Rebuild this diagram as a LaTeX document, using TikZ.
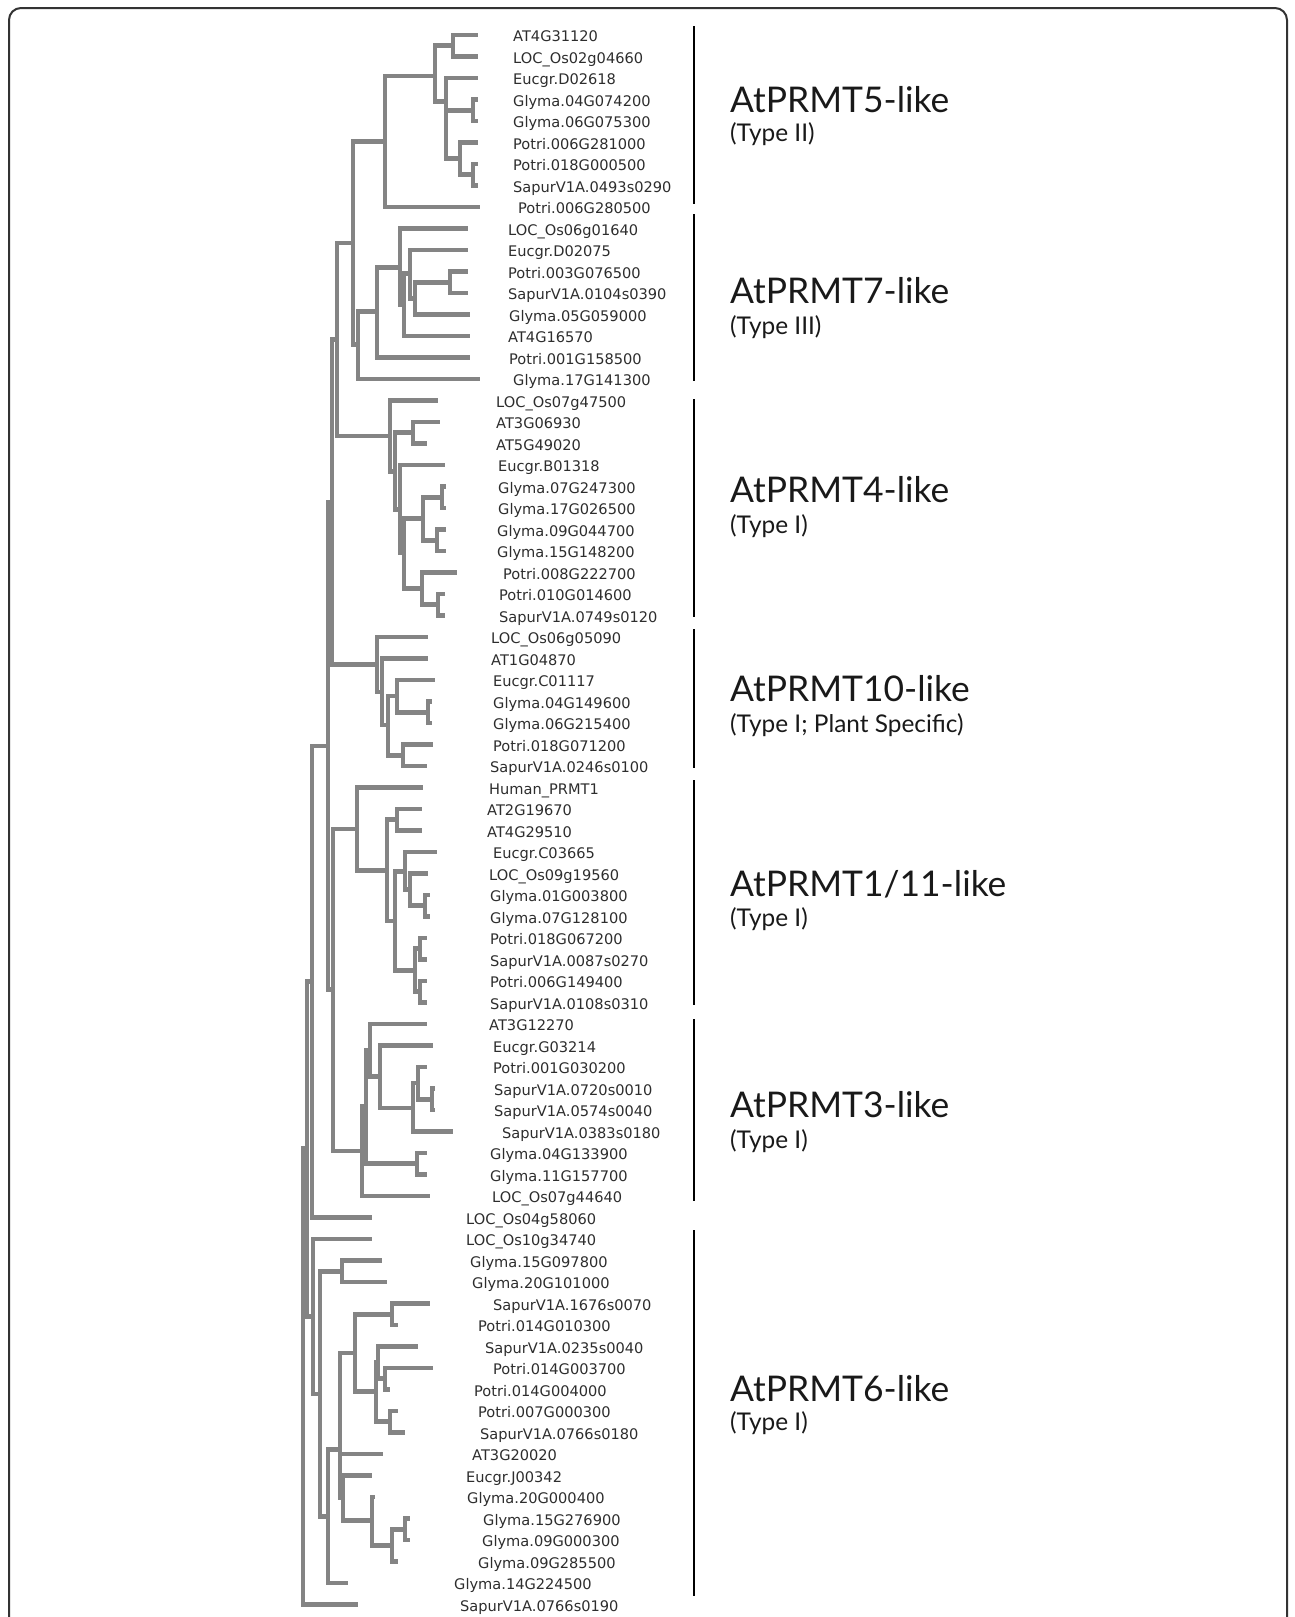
\documentclass[tikz,border=0pt]{standalone}
\usepackage{fontspec}
\setmainfont{DejaVu Sans}
\newfontfamily\grpfont{Lato}
\definecolor{treegray}{RGB}{132,132,132}
\definecolor{lbltext}{RGB}{45,45,45}
\newcommand\leaf[4]{\coordinate (t#1) at (#2,#1); \node[leaflbl] (l#1) at (#3,#1) {#4};}
\newcommand\inode[3]{\coordinate (#1) at (#2,#3);}
\newcommand\kids[2]{\foreach \ch in {#2} {\draw[branch] (#1) |- (\ch);}}
\begin{document}
\begin{tikzpicture}[x=1pt,y=-1pt,
  branch/.style={draw=treegray, line width=4.6pt},
  leaflbl/.style={anchor=base west, inner sep=0pt, yshift=-6.5pt, text=lbltext, font=\fontsize{14.6}{16}\selectfont},
  grptitle/.style={anchor=west, inner sep=0pt, text=black!90, font=\grpfont\fontsize{35.4}{40}\selectfont},
  grpsub/.style={anchor=west, inner sep=0pt, text=black!90, font=\grpfont\fontsize{24.4}{28}\selectfont},
  grpbar/.style={draw=black, line width=2pt},
  framestyle/.style={draw=black!80, line width=2pt, rounded corners=12pt}]
\useasboundingbox (0,0) rectangle (1295,1617);
\draw[framestyle] (9,1617) -- (9,8) -- (1287,8) -- (1287,1617);
\begin{scope}[y={(0pt,-21.5pt)}, yshift=-13.5pt]
% leaves: index, tip x, label x, text
\leaf{1}{478}{513}{AT4G31120}
\leaf{2}{478}{513}{LOC\_Os02g04660}
\leaf{3}{478}{513}{Eucgr.D02618}
\leaf{4}{478}{513}{Glyma.04G074200}
\leaf{5}{478}{513}{Glyma.06G075300}
\leaf{6}{478}{513}{Potri.006G281000}
\leaf{7}{478}{513}{Potri.018G000500}
\leaf{8}{478}{513}{SapurV1A.0493s0290}
\leaf{9}{480}{518}{Potri.006G280500}
\leaf{10}{468}{508}{LOC\_Os06g01640}
\leaf{11}{468}{508}{Eucgr.D02075}
\leaf{12}{468}{508}{Potri.003G076500}
\leaf{13}{468}{508}{SapurV1A.0104s0390}
\leaf{14}{470}{509}{Glyma.05G059000}
\leaf{15}{470}{508}{AT4G16570}
\leaf{16}{470}{509}{Potri.001G158500}
\leaf{17}{480}{513}{Glyma.17G141300}
\leaf{18}{438}{496}{LOC\_Os07g47500}
\leaf{19}{440}{496}{AT3G06930}
\leaf{20}{427}{496}{AT5G49020}
\leaf{21}{445}{498}{Eucgr.B01318}
\leaf{22}{446}{498}{Glyma.07G247300}
\leaf{23}{446}{498}{Glyma.17G026500}
\leaf{24}{446}{497}{Glyma.09G044700}
\leaf{25}{446}{497}{Glyma.15G148200}
\leaf{26}{457}{503}{Potri.008G222700}
\leaf{27}{445}{499}{Potri.010G014600}
\leaf{28}{445}{499}{SapurV1A.0749s0120}
\leaf{29}{428}{491}{LOC\_Os06g05090}
\leaf{30}{428}{491}{AT1G04870}
\leaf{31}{435}{493}{Eucgr.C01117}
\leaf{32}{432}{493}{Glyma.04G149600}
\leaf{33}{432}{493}{Glyma.06G215400}
\leaf{34}{433}{493}{Potri.018G071200}
\leaf{35}{427}{490}{SapurV1A.0246s0100}
\leaf{36}{423}{489}{Human\_PRMT1}
\leaf{37}{422}{487}{AT2G19670}
\leaf{38}{422}{487}{AT4G29510}
\leaf{39}{437}{493}{Eucgr.C03665}
\leaf{40}{428}{489}{LOC\_Os09g19560}
\leaf{41}{430}{490}{Glyma.01G003800}
\leaf{42}{430}{490}{Glyma.07G128100}
\leaf{43}{427}{490}{Potri.018G067200}
\leaf{44}{427}{490}{SapurV1A.0087s0270}
\leaf{45}{427}{490}{Potri.006G149400}
\leaf{46}{427}{490}{SapurV1A.0108s0310}
\leaf{47}{427}{489}{AT3G12270}
\leaf{48}{433}{493}{Eucgr.G03214}
\leaf{49}{427}{493}{Potri.001G030200}
\leaf{50}{435}{494}{SapurV1A.0720s0010}
\leaf{51}{435}{494}{SapurV1A.0574s0040}
\leaf{52}{453}{502}{SapurV1A.0383s0180}
\leaf{53}{427}{490}{Glyma.04G133900}
\leaf{54}{427}{490}{Glyma.11G157700}
\leaf{55}{430}{492}{LOC\_Os07g44640}
\leaf{56}{372}{466}{LOC\_Os04g58060}
\leaf{57}{372}{466}{LOC\_Os10g34740}
\leaf{58}{382}{470}{Glyma.15G097800}
\leaf{59}{387}{472}{Glyma.20G101000}
\leaf{60}{430}{493}{SapurV1A.1676s0070}
\leaf{61}{398}{478}{Potri.014G010300}
\leaf{62}{418}{485}{SapurV1A.0235s0040}
\leaf{63}{433}{493}{Potri.014G003700}
\leaf{64}{390}{474}{Potri.014G004000}
\leaf{65}{398}{478}{Potri.007G000300}
\leaf{66}{405}{480}{SapurV1A.0766s0180}
\leaf{67}{383}{472}{AT3G20020}
\leaf{68}{372}{466}{Eucgr.J00342}
\leaf{69}{375}{467}{Glyma.20G000400}
\leaf{70}{410}{483}{Glyma.15G276900}
\leaf{71}{410}{482}{Glyma.09G000300}
\leaf{72}{398}{478}{Glyma.09G285500}
\leaf{73}{348}{454}{Glyma.14G224500}
\leaf{74}{358}{460}{SapurV1A.0766s0190}
% internal nodes
\inode{a12}{453}{1.5}
\inode{p45}{473}{4.5}
\inode{p78}{473}{7.5}
\inode{n678}{460}{6.75}
\inode{B}{446}{4.1}
\inode{Ap}{435}{2.9}
\inode{C}{385}{5.95}
\inode{p1213}{450}{12.5}
\inode{h7b}{415}{13.25}
\inode{h7a}{410}{12.1}
\inode{g7b}{404}{13.55}
\inode{g7a}{400}{11.8}
\inode{E7}{377}{13.85}
\inode{F7}{358}{15.4}
\inode{D}{353}{10.675}
\inode{p1920}{413}{19.5}
\inode{p2223}{442}{22.5}
\inode{p2425}{437}{24.5}
\inode{q2225}{423}{23.5}
\inode{p2728}{438}{27.5}
\inode{q2628}{422}{26.75}
\inode{r21b}{404}{25.1}
\inode{r21a}{400}{23.06}
\inode{u4}{395}{21.3}
\inode{s4}{390}{19.65}
\inode{G}{337}{15.16}
\inode{p3233}{428}{32.5}
\inode{u31}{397}{31.75}
\inode{p3435}{403}{34.5}
\inode{v10}{388}{33.1}
\inode{w10}{382}{31.56}
\inode{x10}{377}{30.28}
\inode{H}{332}{22.72}
\inode{p3738}{397}{37.5}
\inode{p4142}{425}{41.5}
\inode{r40}{410}{40.75}
\inode{r39}{405}{39.9}
\inode{p4344}{420}{43.5}
\inode{p4546}{420}{45.5}
\inode{q4346}{415}{44.5}
\inode{s11}{395}{42.2}
\inode{w11}{387}{39.85}
\inode{M11}{357}{37.93}
\inode{p5051}{432}{50.5}
\inode{a49}{418}{49.75}
\inode{b52}{413}{50.9}
\inode{c48}{380}{49.45}
\inode{d47}{370}{48.2}
\inode{p5354}{417}{53.5}
\inode{f3}{366}{50.85}
\inode{N3}{362}{52.9}
\inode{L}{333}{45.4}
\inode{I}{328}{34.06}
\inode{J}{312}{45.03}
\inode{p5859}{342}{58.5}
\inode{p6061}{392}{60.5}
\inode{m6364}{385}{63.5}
\inode{m62}{378}{62.75}
\inode{p6566}{390}{65.5}
\inode{k377}{376}{64.1}
\inode{k355}{355}{62.3}
\inode{p7071}{405}{70.5}
\inode{n7072}{392}{71.25}
\inode{n6972}{372}{70.1}
\inode{V6}{343}{69.05}
\inode{U6}{340}{66.8}
\inode{S6}{328}{69.9}
\inode{R2}{320}{64.2}
\inode{T6}{313}{60.6}
\inode{Z1}{307}{52.8}
\inode{Z}{303}{63.4}
% branches
\kids{a12}{t1,t2}
\kids{p45}{t4,t5}
\kids{p78}{t7,t8}
\kids{n678}{t6,p78}
\kids{B}{t3,p45,n678}
\kids{Ap}{a12,B}
\kids{C}{Ap,t9}
\kids{p1213}{t12,t13}
\kids{h7b}{p1213,t14}
\kids{h7a}{t11,h7b}
\kids{g7b}{h7a,t15}
\kids{g7a}{t10,g7b}
\kids{E7}{g7a,t16}
\kids{F7}{E7,t17}
\kids{D}{C,F7}
\kids{p1920}{t19,t20}
\kids{p2223}{t22,t23}
\kids{p2425}{t24,t25}
\kids{q2225}{p2223,p2425}
\kids{p2728}{t27,t28}
\kids{q2628}{t26,p2728}
\kids{r21b}{q2225,q2628}
\kids{r21a}{t21,r21b}
\kids{u4}{p1920,r21a}
\kids{s4}{t18,u4}
\kids{G}{D,s4}
\kids{p3233}{t32,t33}
\kids{u31}{t31,p3233}
\kids{p3435}{t34,t35}
\kids{v10}{u31,p3435}
\kids{w10}{t30,v10}
\kids{x10}{t29,w10}
\kids{H}{G,x10}
\kids{p3738}{t37,t38}
\kids{p4142}{t41,t42}
\kids{r40}{t40,p4142}
\kids{r39}{t39,r40}
\kids{p4344}{t43,t44}
\kids{p4546}{t45,t46}
\kids{q4346}{p4344,p4546}
\kids{s11}{r39,q4346}
\kids{w11}{p3738,s11}
\kids{M11}{t36,w11}
\kids{p5051}{t50,t51}
\kids{a49}{t49,p5051}
\kids{b52}{a49,t52}
\kids{c48}{t48,b52}
\kids{d47}{t47,c48}
\kids{p5354}{t53,t54}
\kids{f3}{d47,p5354}
\kids{N3}{f3,t55}
\kids{L}{M11,N3}
\kids{I}{H,L}
\kids{J}{I,t56}
\kids{p5859}{t58,t59}
\kids{p6061}{t60,t61}
\kids{m6364}{t63,t64}
\kids{m62}{t62,m6364}
\kids{p6566}{t65,t66}
\kids{k377}{m62,p6566}
\kids{k355}{p6061,k377}
\kids{p7071}{t70,t71}
\kids{n7072}{p7071,t72}
\kids{n6972}{t69,n7072}
\kids{V6}{t68,n6972}
\kids{U6}{k355,t67,V6}
\kids{S6}{U6,t73}
\kids{R2}{p5859,S6}
\kids{T6}{t57,R2}
\kids{Z1}{J,T6}
\kids{Z}{Z1,t74}
\end{scope}
% group bars
\draw[grpbar] (694,26) -- (694,204);
\draw[grpbar] (694,214) -- (694,381);
\draw[grpbar] (694,399) -- (694,617);
\draw[grpbar] (694,629) -- (694,768);
\draw[grpbar] (694,780) -- (694,1005);
\draw[grpbar] (694,1019) -- (694,1201);
\draw[grpbar] (694,1230) -- (694,1596);
% group labels
\node[grptitle] (g5) at (730,100) {AtPRMT5-like};
\node[grpsub] (g5s) at (730,134) {(Type II)};
\node[grptitle] (g7) at (730,291) {AtPRMT7-like};
\node[grpsub] (g7s) at (730,327) {(Type III)};
\node[grptitle] (g4) at (730,490) {AtPRMT4-like};
\node[grpsub] (g4s) at (730,526) {(Type I)};
\node[grptitle] (g10) at (730,689) {AtPRMT10-like};
\node[grpsub] (g10s) at (730,725) {(Type I; Plant Specific)};
\node[grptitle] (g1) at (730,884) {AtPRMT1/11-like};
\node[grpsub] (g1s) at (730,919) {(Type I)};
\node[grptitle] (g3) at (730,1105) {AtPRMT3-like};
\node[grpsub] (g3s) at (730,1141) {(Type I)};
\node[grptitle] (g6) at (730,1389) {AtPRMT6-like};
\node[grpsub] (g6s) at (730,1423) {(Type I)};
\end{tikzpicture}
\end{document}
